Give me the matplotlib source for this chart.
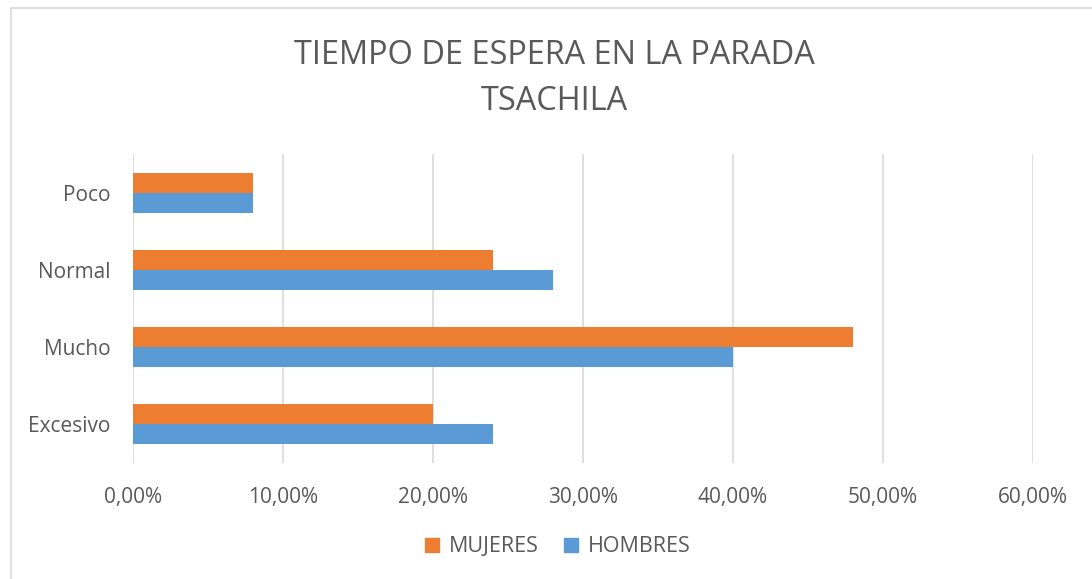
import matplotlib.pyplot as plt
import numpy as np
from matplotlib.patches import Patch, Rectangle
from matplotlib.ticker import FuncFormatter

categorias = ["Poco", "Normal", "Mucho", "Excesivo"]
mujeres = [0.08, 0.24, 0.48, 0.20]
hombres = [0.08, 0.28, 0.40, 0.24]

naranja = "#ED7D31"
azul = "#5B9BD5"
gris = "#595959"

plt.rcParams['font.family'] = ['Open Sans', 'DejaVu Sans']

fig = plt.figure(figsize=(10.92, 5.79), dpi=100)
ax = fig.add_axes([133/1092, 1-463/579, 900/1092, 309/579])

y = np.arange(len(categorias))
h = 0.259
ax.barh(y - h/2, mujeres, height=h, color=naranja, label="MUJERES")
ax.barh(y + h/2, hombres, height=h, color=azul, label="HOMBRES")

ax.set_xlim(0, 0.6)
ax.set_ylim(3.5, -0.5)
ax.set_xticks(np.arange(0, 0.61, 0.1))
ax.xaxis.set_major_formatter(FuncFormatter(lambda v, p: f"{v*100:.2f}%".replace(".", ",")))
ax.set_yticks(y)
ax.set_yticklabels(categorias)
ax.tick_params(axis='both', length=0, labelsize=15, colors=gris)
ax.tick_params(axis='x', pad=17)
ax.tick_params(axis='y', pad=16)
ax.grid(axis='x', color='#D9D9D9', lw=1.2)
ax.set_axisbelow(True)
for s in ax.spines.values():
    s.set_visible(False)

fig.text(554/1092, 1-55/579, "TIEMPO DE ESPERA EN LA PARADA", ha='center', va='center',
         fontsize=23.4, color=gris)
fig.text(554/1092, 1-101/579, "TSACHILA", ha='center', va='center',
         fontsize=23.4, color=gris)

handles = [Patch(color=naranja), Patch(color=azul)]
fig.legend(handles, ["MUJERES", "HOMBRES"], loc='center', ncol=2,
           bbox_to_anchor=(558/1092, 1-547/579), frameon=False, fontsize=15.5,
           labelcolor=gris, handlelength=0.65, handleheight=0.65,
           handletextpad=0.45, columnspacing=1.2)

fig.patches.append(Rectangle((11/1092, -0.1), 1.2, 1-8/579+0.1, transform=fig.transFigure,
                             fill=False, edgecolor='#D9D9D9', lw=1.2))

fig.savefig("out.png", dpi=100)
